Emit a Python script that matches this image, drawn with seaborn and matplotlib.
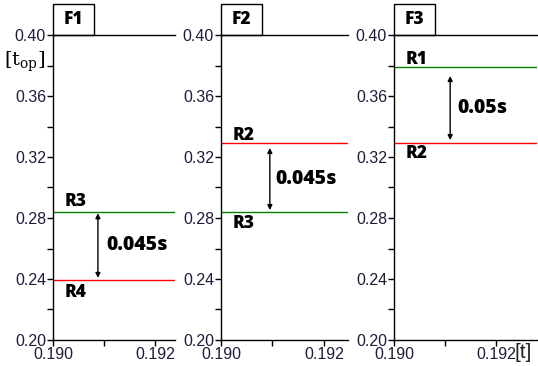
import numpy as np
import pandas as pd
import seaborn as sns
import matplotlib.pyplot as plt
from matplotlib.patches import Rectangle
from matplotlib.ticker import MultipleLocator

# panel data
panels = ["F1", "F2", "F3"]
line_names = [["R3", "R4"], ["R2", "R3"], ["R1", "R2"]]
line_values = [[0.2837, 0.2393], [0.329, 0.2837], [0.3788, 0.329]]
line_colors = [["#008000", "#ff0000"], ["#ff0000", "#008000"], ["#008000", "#ff0000"]]
label_y = [[0.2905, 0.231], [0.3344, 0.2765], [0.3841, 0.322]]
label_x = 0.19022
arrow_x = [0.19088, 0.19095, 0.1911]
arrow_top = [0.2831, 0.3259, 0.3731]
arrow_bottom = [0.2407, 0.2852, 0.3311]
gap_text = ["0.045s", "0.045s", "0.05s"]
gap_x = [0.19104, 0.19105, 0.19124]
gap_y = [0.2623, 0.3058, 0.3521]
x_max = [0.19239, 0.19247, 0.1928]
x_ticks = [0.190, 0.192]
y_ticks = [0.20, 0.24, 0.28, 0.32, 0.36, 0.40]

sns.set_style("ticks")
plt.rcParams["font.family"] = ["Liberation Sans", "DejaVu Sans"]
plt.rcParams["mathtext.fontset"] = "dejavuserif"
plt.rcParams["text.color"] = "black"

W, H = 538, 366
fig = plt.figure(figsize=(W / 100, H / 100), dpi=100)
fig.patch.set_facecolor("white")

ax_left = [53, 221, 394]
ax_right = [175, 348, 537]
ax_top, ax_bot = 35, 340
tick_color = "#1c1c3c"
bold_font = ["Open Sans", "DejaVu Sans"]

for i, name in enumerate(panels):
    ax = fig.add_axes([ax_left[i] / W, 1 - ax_bot / H,
                       (ax_right[i] - ax_left[i]) / W, (ax_bot - ax_top) / H])
    df = pd.DataFrame({
        "t": [0.190, x_max[i]] * 2,
        "top": [line_values[i][0]] * 2 + [line_values[i][1]] * 2,
        "line": [line_names[i][0]] * 2 + [line_names[i][1]] * 2,
    })
    sns.lineplot(data=df, x="t", y="top", hue="line", units="line", estimator=None,
                 palette=dict(zip(line_names[i], line_colors[i])), legend=False,
                 linewidth=1.0, ax=ax)
    ax.set_xlim(0.190, x_max[i])
    ax.set_ylim(0.20, 0.40)
    ax.set_xticks(x_ticks)
    ax.set_xticklabels([f"{v:.3f}" for v in x_ticks])
    ax.set_yticks(y_ticks)
    ax.set_yticklabels([f"{v:.2f}" for v in y_ticks])
    ax.xaxis.set_minor_locator(MultipleLocator(0.001))
    ax.yaxis.set_minor_locator(MultipleLocator(0.02))
    ax.tick_params(which="both", direction="out", length=4, width=1, color="black",
                   labelsize=11.5, labelcolor=tick_color, pad=1)
    ax.set_xlabel("")
    ax.set_ylabel("")
    ax.spines["right"].set_visible(False)
    for s in ["left", "bottom", "top"]:
        ax.spines[s].set_linewidth(1)
        ax.spines[s].set_color("black")

    # line labels
    for j in range(2):
        ax.text(label_x, label_y[i][j], line_names[i][j], fontsize=12.5,
                fontweight="heavy", family=bold_font, va="center", ha="left",
                color="black")

    # gap arrow and text
    ax.annotate("", xy=(arrow_x[i], arrow_bottom[i]), xytext=(arrow_x[i], arrow_top[i]),
                arrowprops=dict(arrowstyle="<|-|>", color="black", lw=1,
                                mutation_scale=7, shrinkA=0, shrinkB=0))
    ax.text(gap_x[i], gap_y[i], gap_text[i], fontsize=14, fontweight="heavy",
            family=bold_font, va="center", ha="left", color="black")

    # panel title box
    ax_w = ax_right[i] - ax_left[i]
    ax_h = ax_bot - ax_top
    ax.add_patch(Rectangle((0, 1), 41 / ax_w, 31 / ax_h, transform=ax.transAxes,
                           fill=False, edgecolor="black", lw=1, clip_on=False))
    ax.text(20.5 / ax_w, 1 + 15.5 / ax_h, name, transform=ax.transAxes,
            fontsize=12.5, fontweight="heavy", family=bold_font,
            ha="center", va="center", color="black")

fig.text(25 / W, 1 - 62 / H, r"$[\mathrm{t}_{\mathrm{op}}]$", fontsize=14,
         ha="center", va="center")
fig.text(523 / W, 1 - 352 / H, "[t]", fontsize=15, ha="center", va="center",
         color="#222222")

fig.savefig("out.png", dpi=100, facecolor="white")
